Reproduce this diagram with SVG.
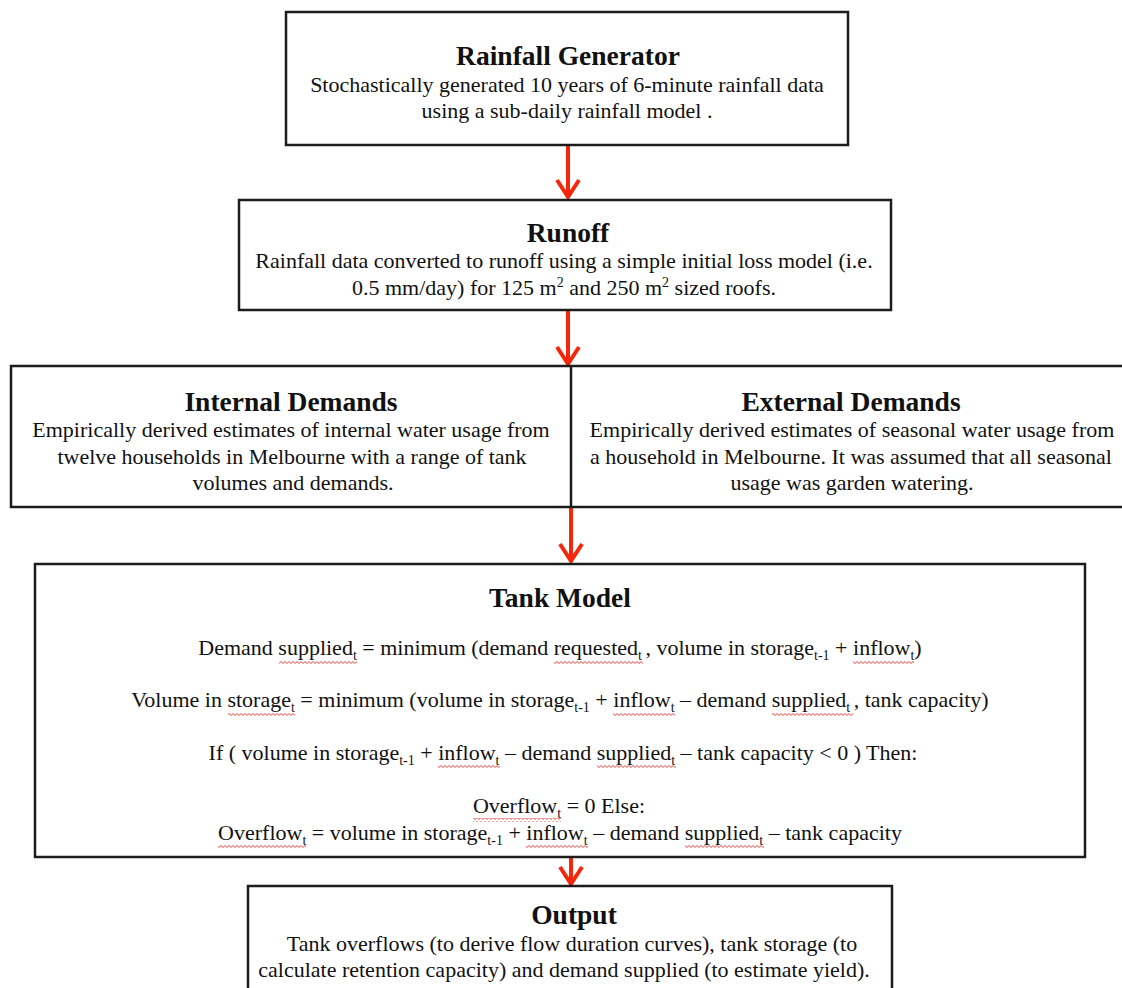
<svg xmlns="http://www.w3.org/2000/svg" width="1122" height="988" viewBox="0 0 1122 988">
<style>
.box{fill:#fff;stroke:#1c1c1c;stroke-width:2.5}
.t{font-family:"Liberation Serif","Times New Roman",serif;font-size:27.5px;font-weight:bold;fill:#111;text-anchor:middle}
.b{font-family:"Liberation Serif","Times New Roman",serif;font-size:22px;fill:#111;text-anchor:middle}
.sub{font-size:14px}
.sq{fill:url(#wave)}
.arr{stroke:#f5260a;stroke-width:4;fill:none}
</style>
<defs>
<marker id="chev" viewBox="-22 -14 24 28" refX="0" refY="0" markerWidth="24" markerHeight="28" markerUnits="userSpaceOnUse" orient="auto">
<path d="M-18,-11 L-1,0 L-18,11" fill="none" stroke="#f5260a" stroke-width="4"/>
</marker>
<pattern id="wave" x="0" y="0" width="4" height="4" patternUnits="userSpaceOnUse">
<path d="M0,2.5 Q1,0.6 2,2.5 T4,2.5" fill="none" stroke="#e0302a" stroke-width="0.9"/>
</pattern>
</defs>

<g id="connectors">
<line class="arr" x1="568" y1="145" x2="568" y2="198" marker-end="url(#chev)"/>
<line class="arr" x1="568" y1="310" x2="568" y2="365" marker-end="url(#chev)"/>
<line class="arr" x1="571" y1="507" x2="571" y2="562" marker-end="url(#chev)"/>
<line class="arr" x1="571" y1="857" x2="571" y2="885" marker-end="url(#chev)"/>
</g>

<g id="rainfall-generator">
<rect class="box" x="286" y="12" width="562" height="133"/>
<text class="t" x="568" y="65">Rainfall Generator</text>
<text class="b" x="567" y="92">Stochastically generated 10 years of 6-minute rainfall data</text>
<text class="b" x="567" y="118">using a sub-daily rainfall model .</text>
</g>

<g id="runoff">
<rect class="box" x="239" y="200" width="652" height="110"/>
<text class="t" x="568" y="242">Runoff</text>
<text class="b" x="564" y="268">Rainfall data converted to runoff using a simple initial loss model (i.e.</text>
<text class="b" x="564" y="295">0.5 mm/day) for 125 m<tspan class="sub" dy="-8">2</tspan><tspan dy="8"> and 250 m</tspan><tspan class="sub" dy="-8">2</tspan><tspan dy="8"> sized roofs.</tspan></text>
</g>

<g id="demands">
<rect class="box" x="11" y="366" width="1122" height="141"/>
</g>
<g id="internal-demands">
<line x1="571" y1="366" x2="571" y2="507" stroke="#1c1c1c" stroke-width="2.5"/>
<text class="t" x="291" y="411">Internal Demands</text>
<text class="b" x="291" y="437">Empirically derived estimates of internal water usage from</text>
<text class="b" x="292" y="464">twelve households in Melbourne with a range of tank</text>
<text class="b" x="293" y="490">volumes and demands.</text>
</g>
<g id="external-demands">
<text class="t" x="851" y="411">External Demands</text>
<text class="b" x="852" y="437">Empirically derived estimates of seasonal water usage from</text>
<text class="b" x="851" y="464">a household in Melbourne. It was assumed that all seasonal</text>
<text class="b" x="852" y="490">usage was garden watering.</text>
</g>

<g id="tank-model">
<rect class="box" x="35" y="564" width="1050" height="293"/>
<text class="t" x="560" y="607">Tank Model</text>
<text class="b" x="560" y="655">Demand supplied<tspan class="sub" dy="5">t</tspan><tspan dy="-5"> = minimum (demand requested</tspan><tspan class="sub" dy="5">t </tspan><tspan dy="-5">, volume in storage</tspan><tspan class="sub" dy="5">t-1</tspan><tspan dy="-5"> + inflow</tspan><tspan class="sub" dy="5">t</tspan><tspan dy="-5">)</tspan></text>
<text class="b" x="560" y="707">Volume in storage<tspan class="sub" dy="5">t</tspan><tspan dy="-5"> = minimum (volume in storage</tspan><tspan class="sub" dy="5">t-1</tspan><tspan dy="-5"> + inflow</tspan><tspan class="sub" dy="5">t</tspan><tspan dy="-5"> – demand supplied</tspan><tspan class="sub" dy="5">t </tspan><tspan dy="-5">, tank capacity)</tspan></text>
<text class="b" x="563" y="760">If ( volume in storage<tspan class="sub" dy="5">t-1</tspan><tspan dy="-5"> + inflow</tspan><tspan class="sub" dy="5">t</tspan><tspan dy="-5"> – demand supplied</tspan><tspan class="sub" dy="5">t</tspan><tspan dy="-5"> – tank capacity &lt; 0 ) Then:</tspan></text>
<text class="b" x="559" y="813">Overflow<tspan class="sub" dy="5">t</tspan><tspan dy="-5"> = 0 Else:</tspan></text>
<text class="b" x="560" y="840">Overflow<tspan class="sub" dy="5">t</tspan><tspan dy="-5"> = volume in storage</tspan><tspan class="sub" dy="5">t-1</tspan><tspan dy="-5"> + inflow</tspan><tspan class="sub" dy="5">t</tspan><tspan dy="-5"> – demand supplied</tspan><tspan class="sub" dy="5">t</tspan><tspan dy="-5"> – tank capacity</tspan></text>
<rect class="sq" x="279" y="660" width="78" height="4"/>
<rect class="sq" x="554" y="660" width="89" height="4"/>
<rect class="sq" x="853" y="660" width="61" height="4"/>
<rect class="sq" x="228" y="712" width="67" height="4"/>
<rect class="sq" x="613" y="712" width="62" height="4"/>
<rect class="sq" x="772" y="712" width="81" height="4"/>
<rect class="sq" x="438" y="765" width="62" height="4"/>
<rect class="sq" x="597" y="765" width="79" height="4"/>
<rect class="sq" x="473" y="818" width="88" height="4"/>
<rect class="sq" x="218" y="845" width="88" height="4"/>
<rect class="sq" x="526" y="845" width="62" height="4"/>
<rect class="sq" x="685" y="845" width="79" height="4"/>
</g>

<g id="output">
<rect class="box" x="248" y="886" width="644" height="130"/>
<text class="t" x="574" y="924">Output</text>
<text class="b" x="572" y="951">Tank overflows (to derive flow duration curves), tank storage (to</text>
<text class="b" x="564" y="977">calculate retention capacity) and demand supplied (to estimate yield).</text>
</g>
</svg>
